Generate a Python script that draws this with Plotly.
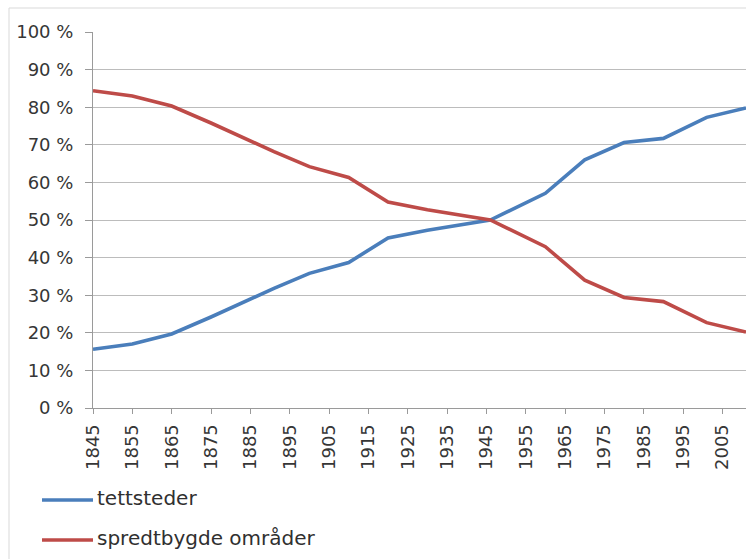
import plotly.graph_objects as go

# Census years and share of population (%)
years = [1845, 1855, 1865, 1875, 1891, 1900, 1910, 1920, 1930, 1946,
         1950, 1960, 1970, 1980, 1990, 2001, 2011]
tettsteder = [15.6, 17.0, 19.7, 24.2, 31.8, 35.8, 38.7, 45.2, 47.3, 50.0,
              52.0, 57.1, 66.0, 70.6, 71.7, 77.3, 79.8]
spredtbygde = [84.4, 83.0, 80.3, 75.8, 68.2, 64.2, 61.3, 54.8, 52.7, 50.0,
               48.0, 42.9, 34.0, 29.4, 28.3, 22.7, 20.2]

series_names = ["tettsteder", "spredtbygde områder"]
series_colors = ["#4a7ebb", "#be4b48"]
x_ticks = list(range(1845, 2006, 10))
y_ticks = list(range(0, 101, 10))

W, H = 746, 559
ML, MR, MT, MB = 93, 0, 32, 151
plot_w = W - ML - MR
plot_h = H - MT - MB


def px_to_paper_x(px):
    return (px - ML) / plot_w


def px_to_paper_y(py):
    return (H - MB - py) / plot_h


font_family = "DejaVu Sans"
tick_font = dict(family=font_family, size=18, color="#363636")

fig = go.Figure()
for name, vals, col in zip(series_names, [tettsteder, spredtbygde], series_colors):
    fig.add_trace(go.Scatter(
        x=years, y=vals, mode="lines", name=name,
        line=dict(color=col, width=3.6),
        showlegend=False, cliponaxis=True,
    ))

fig.update_layout(
    width=W, height=H,
    margin=dict(l=ML, r=MR, t=MT, b=MB),
    paper_bgcolor="white", plot_bgcolor="white",
    font=dict(family=font_family, color="#404040"),
)

fig.update_xaxes(
    range=[1845, 2011],
    tickvals=x_ticks, ticktext=[str(v) for v in x_ticks],
    tickangle=-90, tickfont=tick_font,
    ticks="outside", ticklen=5, tickcolor="#9a9a9a", tickwidth=1,
    showgrid=False, zeroline=False,
    showline=True, linecolor="#9a9a9a", linewidth=1,
    ticklabelstandoff=3,
)
fig.update_yaxes(
    range=[0, 100],
    tickvals=y_ticks, ticktext=[f"{v} %" for v in y_ticks],
    tickfont=tick_font,
    ticks="outside", ticklen=7, tickcolor="#9a9a9a", tickwidth=1,
    showgrid=True, gridcolor="#bcbcbc", gridwidth=1.3,
    zeroline=False,
    showline=True, linecolor="#9a9a9a", linewidth=1,
    ticklabelstandoff=8,
)

# Outer chart-area frame
fig.add_shape(
    type="rect", xref="paper", yref="paper",
    x0=px_to_paper_x(9), x1=px_to_paper_x(W + 10),
    y0=px_to_paper_y(H + 10), y1=px_to_paper_y(8),
    line=dict(color="#d9d9d9", width=1), fillcolor="rgba(0,0,0,0)",
    layer="below",
)

# Legend below the plot
legend_rows = [500, 540]
for name, col, ly in zip(series_names, series_colors, legend_rows):
    fig.add_shape(
        type="line", xref="paper", yref="paper",
        x0=px_to_paper_x(42), x1=px_to_paper_x(93),
        y0=px_to_paper_y(ly), y1=px_to_paper_y(ly),
        line=dict(color=col, width=3.6),
    )
    fig.add_annotation(
        xref="paper", yref="paper",
        x=px_to_paper_x(95), y=px_to_paper_y(ly - 2),
        text=name, showarrow=False,
        xanchor="left", yanchor="middle",
        font=dict(family=font_family, size=20, color="#303030"),
    )

fig.write_html("out.html")
